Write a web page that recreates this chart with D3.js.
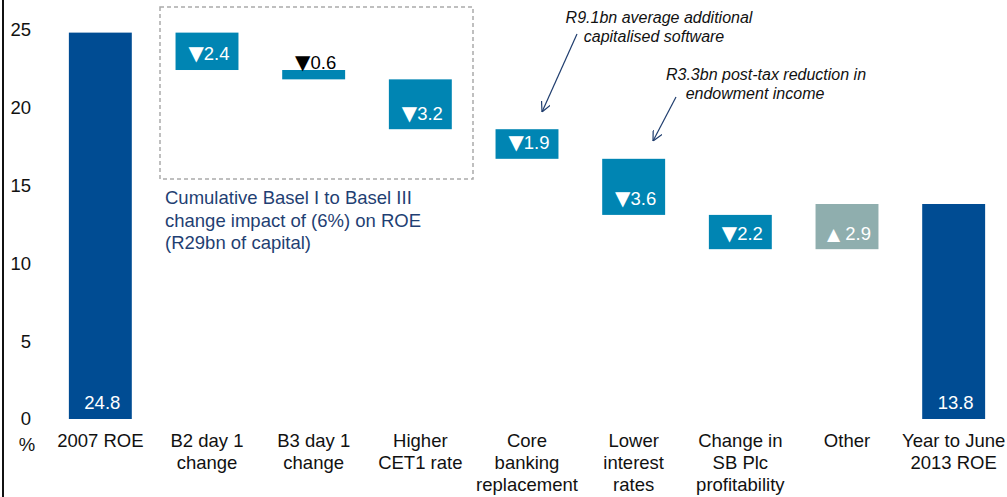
<!DOCTYPE html>
<html>
<head>
<meta charset="utf-8">
<script src="https://cdn.jsdelivr.net/npm/d3@7"></script>
<style>
  body{margin:0;background:#fff;}
  text{font-family:"Liberation Sans", Arial, sans-serif;}
</style>
</head>
<body>
<svg id="main"></svg>
<script>
//--------data----------
const categories = [
  ['2007 ROE'],
  ['B2 day 1', 'change'],
  ['B3 day 1', 'change'],
  ['Higher', 'CET1 rate'],
  ['Core', 'banking', 'replacement'],
  ['Lower', 'interest', 'rates'],
  ['Change in', 'SB Plc', 'profitability'],
  ['Other'],
  ['Year to June', '2013 ROE']
];
// type: total / down / up
const types = ['total', 'down', 'down', 'down', 'down', 'down', 'down', 'up', 'total'];
const values = [24.8, 2.4, 0.6, 3.2, 1.9, 3.6, 2.2, 2.9, 13.8];
const yTicks = [0, 5, 10, 15, 20, 25];
const boxNote = ['Cumulative Basel I to Basel III', 'change impact of (6%) on ROE', '(R29bn of capital)'];
const note1 = ['R9.1bn average additional', 'capitalised software'];
const note2 = ['R3.3bn post-tax reduction in', 'endowment income'];

//--------code----------
const width = 1007, height = 497;
const svg = d3.select('#main').attr('width', width).attr('height', height);
const fs = '18.5px';

const colors = {total: '#004C93', down: '#0085B3', up: '#8FAEAE'};

// build waterfall steps
let run = 0;
const steps = values.map((v, i) => {
  let y0, y1;
  if (types[i] === 'total') { y0 = 0; y1 = v; run = v; }
  else if (types[i] === 'down') { y0 = run - v; y1 = run; run = y0; }
  else { y0 = run; y1 = run + v; run = y1; }
  return {i, v, type: types[i], y0, y1, lines: categories[i]};
});

const x = d3.scaleBand()
  .domain(d3.range(categories.length))
  .range([47, 1007])
  .paddingInner(0.41)
  .paddingOuter(0.205);
const y = d3.scaleLinear().domain([0, 25]).range([419, 29.5]);

// left axis line
svg.append('line')
  .attr('x1', 3).attr('x2', 3).attr('y1', 0).attr('y2', height)
  .attr('stroke', '#111').attr('stroke-width', 2);

// y tick labels
svg.selectAll('.ytick')
  .data(yTicks)
  .join('text')
  .attr('class', 'ytick')
  .attr('x', 31)
  .attr('y', d => y(d))
  .attr('dy', '0.35em')
  .attr('text-anchor', 'end')
  .style('font-size', fs)
  .attr('fill', '#111')
  .text(d => d);
svg.append('text')
  .attr('x', 27).attr('y', 445).attr('dy', '0.35em')
  .attr('text-anchor', 'middle')
  .style('font-size', fs)
  .attr('fill', '#111')
  .text('%');

// dashed box
svg.append('rect')
  .attr('x', 160).attr('y', 7)
  .attr('width', 313).attr('height', 172)
  .attr('fill', 'none')
  .attr('stroke', '#aaa')
  .attr('stroke-width', 1.5)
  .attr('stroke-dasharray', '4,3');

svg.append('text')
  .style('font-size', fs)
  .attr('fill', '#1F3F73')
  .selectAll('tspan')
  .data(boxNote)
  .join('tspan')
  .attr('x', 165)
  .attr('y', (d, i) => 198 + i * 22.5)
  .attr('dy', '0.35em')
  .text(d => d);

// bars
svg.selectAll('.bar')
  .data(steps)
  .join('rect')
  .attr('class', 'bar')
  .attr('x', d => x(d.i))
  .attr('width', x.bandwidth())
  .attr('y', d => y(d.y1))
  .attr('height', d => y(d.y0) - y(d.y1))
  .attr('fill', d => colors[d.type]);

// bar labels
const thin = d => (y(d.y0) - y(d.y1)) < 25;
const blabels = svg.selectAll('.blabel')
  .data(steps)
  .join('text')
  .attr('class', 'blabel')
  .attr('x', d => x(d.i) + x.bandwidth() / 2 + 2)
  .attr('y', d => thin(d) ? y(d.y1) - 7 : y(d.y0) - 16)
  .attr('dy', '0.35em')
  .attr('text-anchor', 'middle')
  .style('font-size', fs)
  .attr('fill', d => thin(d) ? '#000' : '#fff');
blabels.filter(d => d.type !== 'total')
  .append('tspan')
  .style('font-family', '"DejaVu Sans"')
  .style('font-size', d => d.type === 'down' ? '20px' : '17px')
  .text(d => d.type === 'down' ? '\u25BC' : '\u25B2');
blabels.append('tspan')
  .text(d => (d.type === 'up' ? ' ' : '') + d.v.toFixed(1));

// category labels
svg.selectAll('.cat')
  .data(steps)
  .join('text')
  .attr('class', 'cat')
  .attr('text-anchor', 'middle')
  .style('font-size', fs)
  .attr('fill', '#111')
  .each(function(d){
    d3.select(this).selectAll('tspan')
      .data(d.lines)
      .join('tspan')
      .attr('x', x(d.i) + x.bandwidth() / 2)
      .attr('y', (t, k) => 441 + k * 22)
      .attr('dy', '0.35em')
      .text(t => t);
  });

// italic notes with arrows
svg.append('defs').append('marker')
  .attr('id', 'arr')
  .attr('viewBox', '0 0 10 10')
  .attr('refX', 10).attr('refY', 5)
  .attr('markerWidth', 10).attr('markerHeight', 10)
  .attr('markerUnits', 'userSpaceOnUse')
  .attr('orient', 'auto')
  .append('path')
  .attr('d', 'M0,0 L10,5 L0,10')
  .attr('fill', 'none')
  .attr('stroke', '#1F3D6E')
  .attr('stroke-width', 1.2);

function note(lines, cx, cy){
  svg.append('text')
    .style('font-size', '16px')
    .style('font-style', 'italic')
    .attr('fill', '#111')
    .selectAll('tspan')
    .data(lines)
    .join('tspan')
    .attr('x', (d, i) => cx[i])
    .attr('y', (d, i) => cy + i * 19)
    .attr('dy', '0.35em')
    .attr('text-anchor', 'middle')
    .text(d => d);
}
note(note1, [659, 654], 17);
note(note2, [766, 755], 74);

svg.append('line')
  .attr('x1', 577).attr('y1', 34).attr('x2', 542).attr('y2', 112)
  .attr('stroke', '#1F3D6E').attr('stroke-width', 1.2)
  .attr('marker-end', 'url(#arr)');
svg.append('line')
  .attr('x1', 676).attr('y1', 97).attr('x2', 653).attr('y2', 141)
  .attr('stroke', '#1F3D6E').attr('stroke-width', 1.2)
  .attr('marker-end', 'url(#arr)');
</script>
</body>
</html>
